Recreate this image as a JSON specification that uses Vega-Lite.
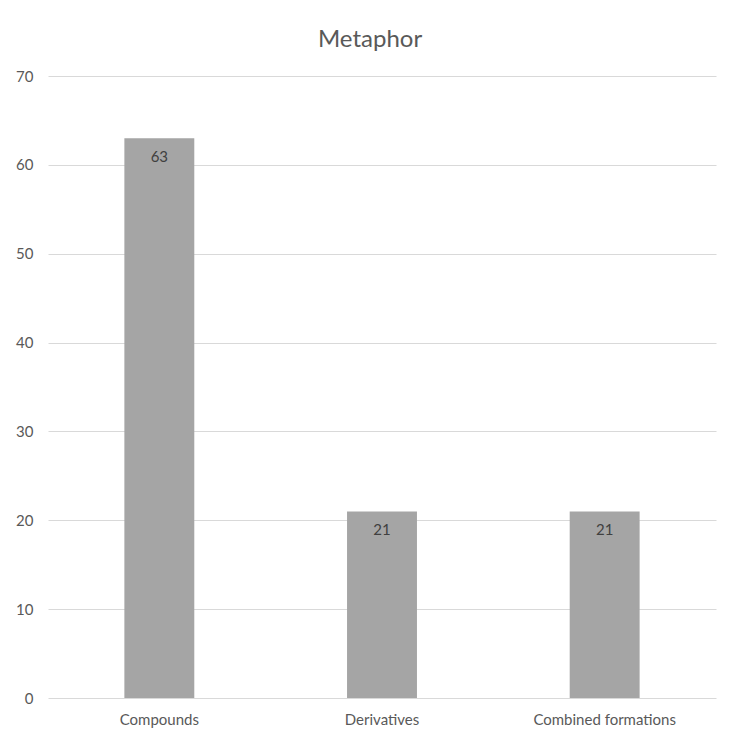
{
  "$schema": "https://vega.github.io/schema/vega-lite/v6.json",
  "width": 668,
  "height": 622,
  "autosize": {"type": "none"},
  "padding": {"left": 48, "top": 76, "right": 23, "bottom": 44},
  "background": "white",
  "title": {
    "text": "Metaphor",
    "anchor": "middle",
    "font": "Lato",
    "fontSize": 24,
    "fontWeight": "normal",
    "color": "#595959",
    "offset": 17,
    "dx": -12
  },
  "config": {
    "view": {"stroke": null},
    "font": "Lato"
  },
  "data": {
    "values": [
      {"category": "Compounds", "count": 63},
      {"category": "Derivatives", "count": 21},
      {"category": "Combined formations", "count": 21}
    ]
  },
  "encoding": {
    "x": {
      "field": "category",
      "type": "nominal",
      "sort": null,
      "scale": {"paddingInner": 0.686, "paddingOuter": 0.343},
      "axis": {
        "title": null,
        "labelAngle": 0,
        "labelFontSize": 15,
        "labelColor": "#595959",
        "labelPadding": 14,
        "ticks": false,
        "domain": false,
        "grid": false
      }
    },
    "y": {
      "field": "count",
      "type": "quantitative",
      "scale": {"domain": [0, 70], "nice": false},
      "axis": {
        "title": null,
        "values": [0, 10, 20, 30, 40, 50, 60, 70],
        "labelFontSize": 15,
        "labelColor": "#595959",
        "labelPadding": 15,
        "ticks": false,
        "domain": false,
        "grid": true,
        "gridColor": "#D9D9D9",
        "gridWidth": 1
      }
    }
  },
  "layer": [
    {
      "mark": {"type": "bar", "color": "#A5A5A5"}
    },
    {
      "mark": {
        "type": "text",
        "baseline": "top",
        "dy": 12,
        "fontSize": 15,
        "color": "#404040"
      },
      "encoding": {
        "text": {"field": "count", "type": "quantitative"}
      }
    }
  ]
}
